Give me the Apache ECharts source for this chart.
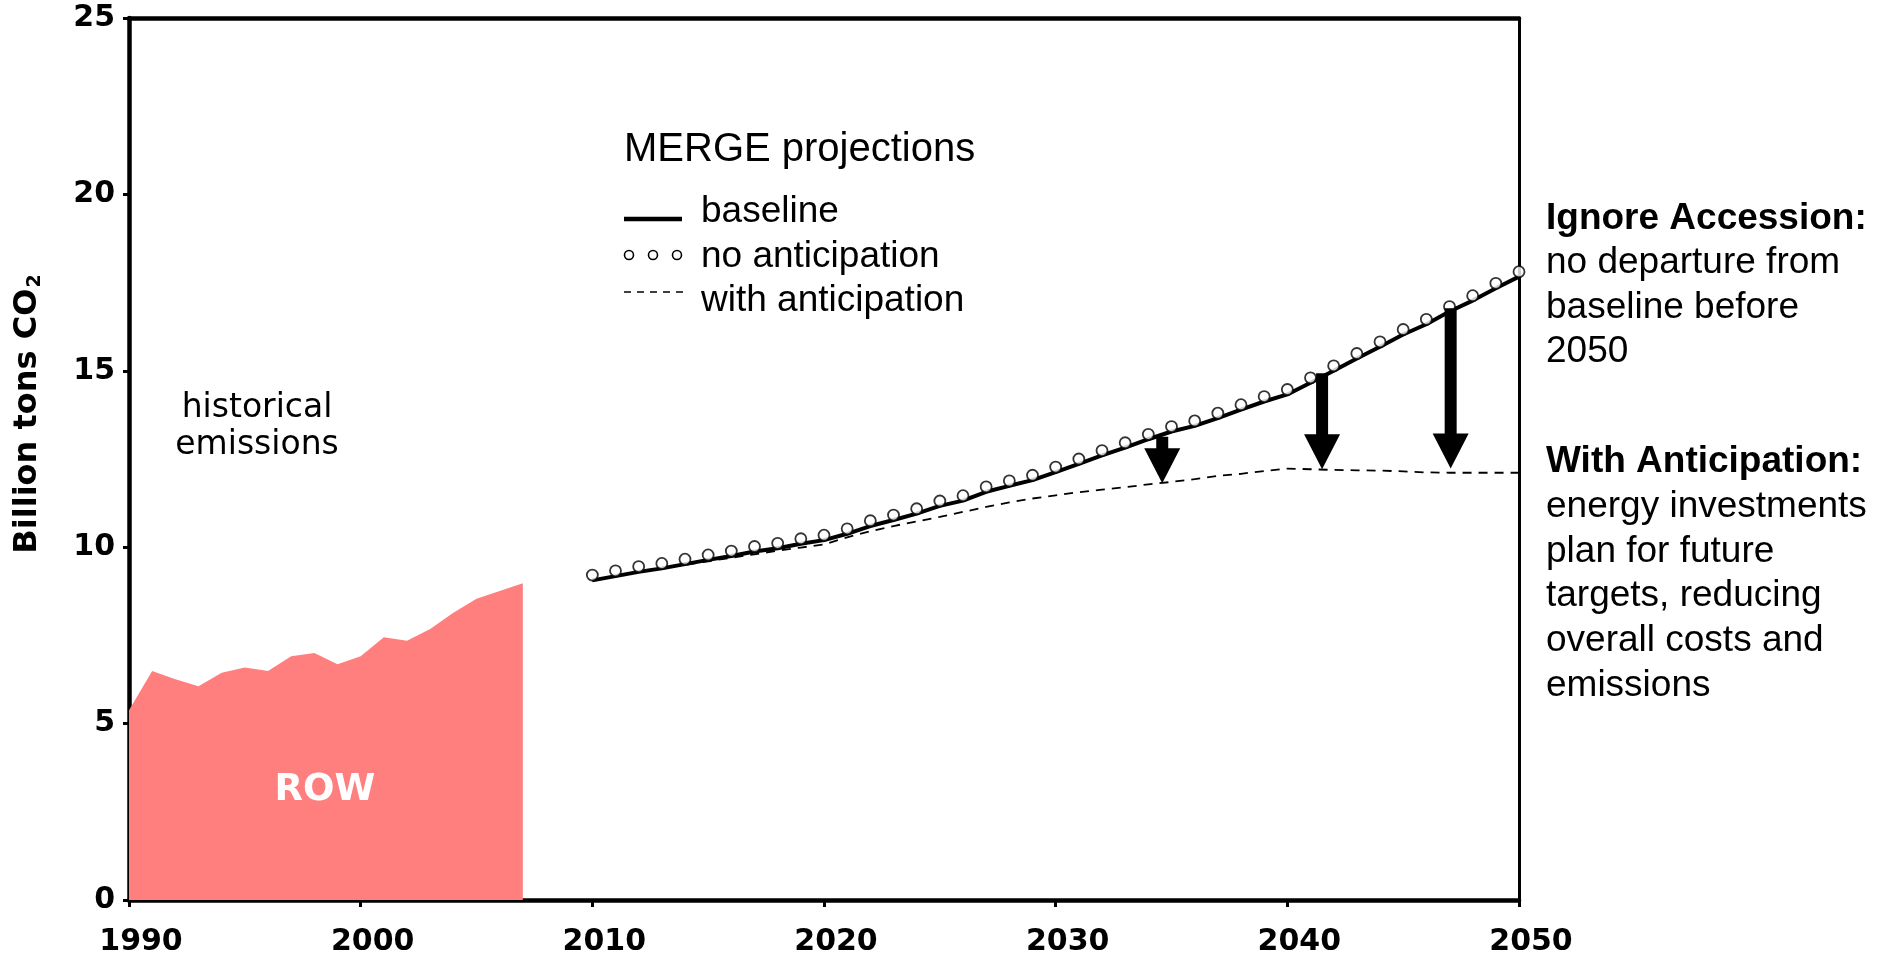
<!DOCTYPE html>
<html>
<head>
<meta charset="utf-8">
<script src="https://cdn.jsdelivr.net/npm/echarts@6/dist/echarts.min.js"></script>
<style>
html,body{margin:0;padding:0;background:#fff;}
#chart{width:1890px;height:957px;}
</style>
</head>
<body>
<div id="chart"></div>
<script>
// ---- data ----
const histYears = [1990,1991,1992,1993,1994,1995,1996,1997,1998,1999,2000,2001,2002,2003,2004,2005,2006,2007];
const histValues = [5.38,6.49,6.26,6.06,6.44,6.59,6.49,6.91,7.0,6.68,6.91,7.45,7.35,7.68,8.14,8.54,8.76,8.98];

const projYears = [2010,2011,2012,2013,2014,2015,2016,2017,2018,2019,2020,2021,2022,2023,2024,2025,2026,2027,2028,2029,2030,2031,2032,2033,2034,2035,2036,2037,2038,2039,2040,2041,2042,2043,2044,2045,2046,2047,2048,2049,2050];
const baseline = [9.06,9.18,9.3,9.4,9.52,9.64,9.75,9.88,9.97,10.1,10.2,10.38,10.6,10.77,10.95,11.17,11.32,11.57,11.74,11.9,12.13,12.36,12.6,12.82,13.06,13.28,13.44,13.66,13.9,14.13,14.33,14.66,15.0,15.35,15.68,16.03,16.32,16.68,16.99,17.34,17.67];
const noAnticipation = [9.21,9.33,9.45,9.54,9.66,9.78,9.89,10.02,10.11,10.24,10.34,10.52,10.75,10.91,11.09,11.31,11.46,11.71,11.88,12.04,12.27,12.5,12.74,12.96,13.2,13.42,13.58,13.8,14.04,14.27,14.47,14.8,15.14,15.49,15.82,16.17,16.46,16.82,17.13,17.48,17.81];
const withAnticipation = [9.06,9.18,9.3,9.4,9.5,9.6,9.7,9.8,9.9,9.99,10.08,10.28,10.45,10.6,10.73,10.86,11.0,11.14,11.27,11.38,11.47,11.56,11.63,11.7,11.78,11.85,11.93,12.02,12.08,12.16,12.23,12.21,12.19,12.18,12.17,12.15,12.12,12.11,12.11,12.11,12.11];

const arrowYears = [2034.6, 2041.5, 2047.05];
const arrowTops = [13.13, 14.93, 16.77];
const arrowTips = [11.81, 12.21, 12.23];

const xTickLabels = [1990,2000,2010,2020,2030,2040,2050];
const yTickLabels = [0,5,10,15,20,25];

const legendTitle = 'MERGE projections';
const legendItems = ['baseline','no anticipation','with anticipation'];
const noteHead1 = 'Ignore Accession:';
const noteLines1 = ['no departure from','baseline before','2050'];
const noteHead2 = 'With Anticipation:';
const noteLines2 = ['energy investments','plan for future','targets, reducing','overall costs and','emissions'];

// ---- chart ----
const pair = (xs, ys) => xs.map((x, i) => [x, ys[i]]);
const chart = echarts.init(document.getElementById('chart'), null, {renderer: 'canvas'});

const tickFont = {fontFamily: 'DejaVu Sans', fontWeight: 'bold', fontSize: 30, color: '#000'};
const lib = 'Liberation Sans';

const graphics = [];
// y axis title
graphics.push({
  type: 'text', x: 28, y: 414, rotation: Math.PI / 2,
  style: {
    text: '{a|Billion tons CO}{s|2}',
    align: 'center', verticalAlign: 'middle',
    rich: {
      a: {fontFamily: 'DejaVu Sans', fontWeight: 'bold', fontSize: 32, fill: '#000'},
      s: {fontFamily: 'DejaVu Sans', fontWeight: 'bold', fontSize: 19, fill: '#000', padding: [14, 0, 0, 1]}
    }
  }
});
// historical emissions label
graphics.push({type: 'text', x: 257, y: 408, style: {text: 'historical', font: '33px "DejaVu Sans"', fill: '#000', align: 'center', verticalAlign: 'middle'}});
graphics.push({type: 'text', x: 257, y: 445, style: {text: 'emissions', font: '33px "DejaVu Sans"', fill: '#000', align: 'center', verticalAlign: 'middle'}});
// ROW
graphics.push({type: 'text', x: 325, y: 790, z: 10, style: {text: 'ROW', font: 'bold 37px "DejaVu Sans"', fill: '#fff', align: 'center', verticalAlign: 'middle'}});
// legend
graphics.push({type: 'text', x: 624, y: 150, style: {text: legendTitle, font: '40px "' + lib + '"', fill: '#000', align: 'left', verticalAlign: 'middle'}});
graphics.push({type: 'line', shape: {x1: 624, y1: 219, x2: 682, y2: 219}, style: {stroke: '#000', lineWidth: 4.5}});
[629, 653, 677].forEach(cx => graphics.push({type: 'circle', shape: {cx: cx, cy: 255, r: 4.5}, style: {fill: '#fff', stroke: '#000', lineWidth: 1.6}}));
graphics.push({type: 'line', shape: {x1: 624, y1: 292, x2: 688, y2: 292}, style: {stroke: '#000', lineWidth: 1.5, lineDash: [7, 6]}});
const legY = [212, 257, 301];
legendItems.forEach((t, i) => graphics.push({type: 'text', x: 701, y: legY[i], style: {text: t, font: '37px "' + lib + '"', fill: '#000', align: 'left', verticalAlign: 'middle'}}));
// right notes
const noteFont = '37px "' + lib + '"';
graphics.push({type: 'text', x: 1546, y: 219, style: {text: noteHead1, font: 'bold ' + noteFont, fill: '#000', align: 'left', verticalAlign: 'middle'}});
noteLines1.forEach((t, i) => graphics.push({type: 'text', x: 1546, y: 263 + i * 44.6, style: {text: t, font: noteFont, fill: '#000', align: 'left', verticalAlign: 'middle'}}));
graphics.push({type: 'text', x: 1546, y: 462, style: {text: noteHead2, font: 'bold ' + noteFont, fill: '#000', align: 'left', verticalAlign: 'middle'}});
noteLines2.forEach((t, i) => graphics.push({type: 'text', x: 1546, y: 507 + i * 44.6, style: {text: t, font: noteFont, fill: '#000', align: 'left', verticalAlign: 'middle'}}));

const option = {
  animation: false,
  backgroundColor: '#fff',
  grid: {left: 129, right: 371, top: 18, bottom: 57, containLabel: false},
  xAxis: [{
    type: 'value', min: 1990, max: 2050, interval: 10, position: 'bottom',
    axisLine: {show: true, onZero: false, lineStyle: {color: '#000', width: 4.5}},
    axisTick: {show: true, inside: false, length: 7, lineStyle: {color: '#000', width: 3}},
    axisLabel: Object.assign({}, tickFont, {margin: 27, padding: [0, 0, 0, 24],
      formatter: v => xTickLabels.indexOf(v) >= 0 ? String(v) : ''}),
    splitLine: {show: false}
  }, {
    type: 'value', min: 1990, max: 2050, position: 'top',
    axisLine: {show: true, onZero: false, lineStyle: {color: '#000', width: 4.5}},
    axisTick: {show: false}, axisLabel: {show: false}, splitLine: {show: false}
  }],
  yAxis: [{
    type: 'value', min: 0, max: 25, interval: 5, position: 'left',
    axisLine: {show: true, onZero: false, lineStyle: {color: '#000', width: 4.5}},
    axisTick: {show: true, inside: false, length: 6, lineStyle: {color: '#000', width: 3}},
    axisLabel: Object.assign({}, tickFont, {margin: 14,
      formatter: v => yTickLabels.indexOf(v) >= 0 ? String(v) : ''}),
    splitLine: {show: false}
  }, {
    type: 'value', min: 0, max: 25, position: 'right',
    axisLine: {show: true, onZero: false, lineStyle: {color: '#000', width: 3}},
    axisTick: {show: false}, axisLabel: {show: false}, splitLine: {show: false}
  }],
  series: [
    {
      name: 'ROW', type: 'line', data: pair(histYears, histValues),
      symbol: 'none', lineStyle: {width: 0}, z: 1,
      areaStyle: {color: '#ff7f7f', opacity: 1}, itemStyle: {color: '#ff7f7f'}
    },
    {
      name: 'with anticipation', type: 'line', data: pair(projYears, withAnticipation),
      symbol: 'none', z: 3,
      lineStyle: {color: '#000', width: 1.8, type: [9, 7]}
    },
    {
      name: 'baseline', type: 'line', data: pair(projYears, baseline),
      symbol: 'none', z: 4,
      lineStyle: {color: '#000', width: 4}
    },
    {
      name: 'no anticipation', type: 'scatter', data: pair(projYears, noAnticipation),
      symbol: 'circle', symbolSize: 11, clip: false, z: 5,
      itemStyle: {color: '#fff', borderColor: '#000', borderWidth: 1.8}
    },
    {
      name: 'arrows', type: 'custom', z: 6, clip: false,
      data: arrowYears.map((x, i) => [x, arrowTops[i], arrowTips[i]]),
      renderItem: function (params, api) {
        const x = api.value(0);
        const pTop = api.coord([x, api.value(1)]);
        const pTip = api.coord([x, api.value(2)]);
        const sw = 12, hw = 36, hh = 35;
        const cx = pTop[0];
        const hy = pTip[1] - hh;
        return {
          type: 'polygon',
          shape: {points: [[cx - sw / 2, pTop[1]], [cx + sw / 2, pTop[1]], [cx + sw / 2, hy], [cx + hw / 2, hy], [cx, pTip[1]], [cx - hw / 2, hy], [cx - sw / 2, hy]]},
          style: {fill: '#000'}
        };
      }
    }
  ],
  graphic: graphics
};
chart.setOption(option);
</script>
</body>
</html>
